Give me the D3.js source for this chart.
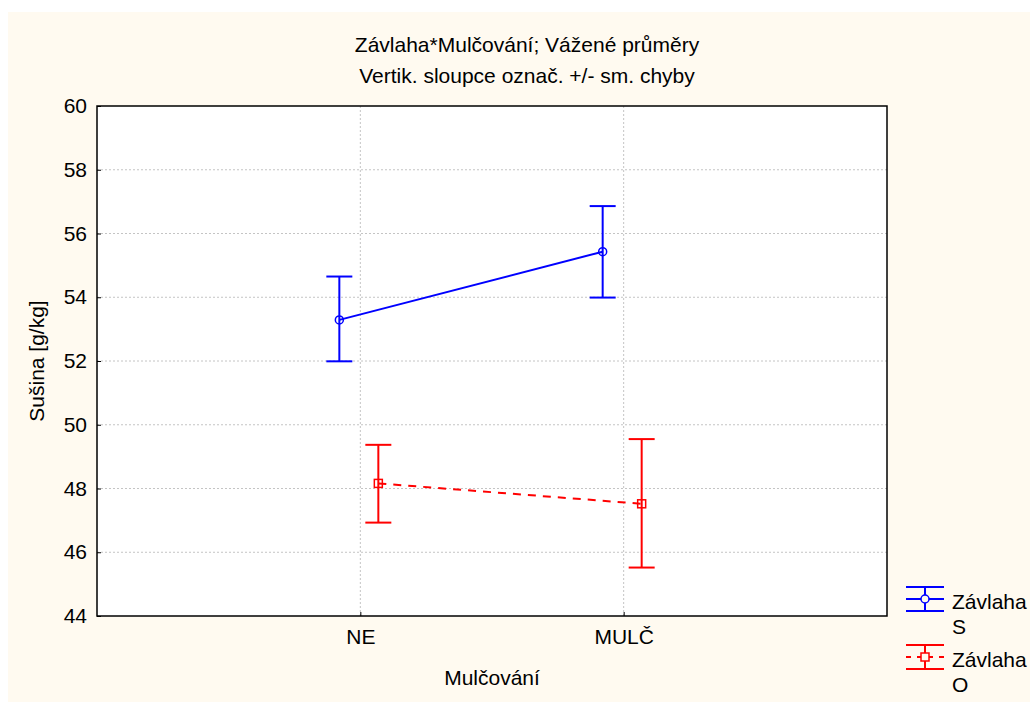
<!DOCTYPE html>
<html>
<head>
<meta charset="utf-8">
<script src="https://cdn.jsdelivr.net/npm/d3@7"></script>
<style>
    body { margin: 0; background: #ffffff; }
    text { font-family: "Liberation Sans", Arial, sans-serif; fill: #000; }
</style>
</head>
<body>
<script>
//categories on the x axis
var categories = ["NE", "MULČ"];

//series names and weighted means with +/- std. error ends
var seriesNames = ["Závlaha S", "Závlaha O"];
var meansS = [53.29, 55.43];
var upperS = [54.65, 56.86];
var lowerS = [51.99, 53.99];
var meansO = [48.16, 47.52];
var upperO = [49.37, 49.55];
var lowerO = [46.93, 45.52];

var yTicks = [44, 46, 48, 50, 52, 54, 56, 58, 60];

window.onload = function(){
    var width = 1030,
        height = 702;

    var svg = d3.select("body")
        .append("svg")
        .attr("width", width)
        .attr("height", height);

    //cream panel
    svg.append("rect")
        .attr("x", 8)
        .attr("y", 12)
        .attr("width", width - 8)
        .attr("height", height - 12)
        .attr("fill", "#fffaf0");

    var left = 97, right = 887, top = 106, bottom = 616;

    var x = d3.scalePoint()
        .domain(categories)
        .range([left, right])
        .padding(1);

    var y = d3.scaleLinear()
        .domain([44, 60])
        .range([bottom, top]);

    //plot area
    svg.append("rect")
        .attr("x", left)
        .attr("y", top)
        .attr("width", right - left)
        .attr("height", bottom - top)
        .attr("fill", "#ffffff");

    //grid lines
    svg.selectAll(".hgrid")
        .data(yTicks.slice(1, -1))
        .enter()
        .append("line")
        .attr("x1", left)
        .attr("x2", right)
        .attr("y1", function(d){ return y(d); })
        .attr("y2", function(d){ return y(d); })
        .attr("stroke", "#c4c4c4")
        .attr("stroke-dasharray", "2,2");

    svg.selectAll(".vgrid")
        .data(categories)
        .enter()
        .append("line")
        .attr("x1", function(d){ return x(d); })
        .attr("x2", function(d){ return x(d); })
        .attr("y1", top)
        .attr("y2", bottom)
        .attr("stroke", "#c4c4c4")
        .attr("stroke-dasharray", "2,2");

    //axes
    var yAxis = svg.append("g")
        .attr("transform", "translate(" + left + ",0)")
        .call(d3.axisLeft(y).tickValues(yTicks).tickSize(-4).tickPadding(10));
    var xAxis = svg.append("g")
        .attr("transform", "translate(0," + bottom + ")")
        .call(d3.axisBottom(x).tickSize(-4).tickPadding(13));
    [yAxis, xAxis].forEach(function(ax){
        ax.select(".domain").remove();
        ax.selectAll("line").attr("stroke", "#000");
        ax.selectAll("text")
            .style("font-family", "'Liberation Sans', Arial, sans-serif")
            .style("font-size", "21px")
            .attr("fill", "#000");
    });

    //frame
    svg.append("rect")
        .attr("x", left)
        .attr("y", top)
        .attr("width", right - left)
        .attr("height", bottom - top)
        .attr("fill", "none")
        .attr("stroke", "#000")
        .attr("stroke-width", 1.5);

    var series = [
        {name: seriesNames[0], means: meansS, upper: upperS, lower: lowerS, color: "#0000ff", dash: null, off: -21, marker: "circle"},
        {name: seriesNames[1], means: meansO, upper: upperO, lower: lowerO, color: "#ff0000", dash: "8,7", off: 18, marker: "square"}
    ];

    series.forEach(function(s){
        var pts = categories.map(function(c, i){
            return {x: x(c) + s.off, m: s.means[i], hi: s.upper[i], lo: s.lower[i]};
        });

        var g = svg.append("g");

        //connecting line
        g.append("path")
            .datum(pts)
            .attr("d", d3.line().x(function(d){ return d.x; }).y(function(d){ return y(d.m); }))
            .attr("fill", "none")
            .attr("stroke", s.color)
            .attr("stroke-width", 2)
            .attr("stroke-dasharray", s.dash);

        //error bars
        g.selectAll(".whisker")
            .data(pts)
            .enter()
            .append("line")
            .attr("x1", function(d){ return d.x; })
            .attr("x2", function(d){ return d.x; })
            .attr("y1", function(d){ return y(d.hi); })
            .attr("y2", function(d){ return y(d.lo); })
            .attr("stroke", s.color)
            .attr("stroke-width", 2);
        ["hi", "lo"].forEach(function(k){
            g.selectAll(".cap" + k)
                .data(pts)
                .enter()
                .append("line")
                .attr("x1", function(d){ return d.x - 13; })
                .attr("x2", function(d){ return d.x + 13; })
                .attr("y1", function(d){ return y(d[k]); })
                .attr("y2", function(d){ return y(d[k]); })
                .attr("stroke", s.color)
                .attr("stroke-width", 2);
        });

        //markers
        if (s.marker == "circle"){
            g.selectAll(".mk")
                .data(pts)
                .enter()
                .append("circle")
                .attr("cx", function(d){ return d.x; })
                .attr("cy", function(d){ return y(d.m); })
                .attr("r", 4)
                .attr("fill", "none")
                .attr("stroke", s.color)
                .attr("stroke-width", 1.5);
        } else {
            g.selectAll(".mk")
                .data(pts)
                .enter()
                .append("rect")
                .attr("x", function(d){ return d.x - 4; })
                .attr("y", function(d){ return y(d.m) - 4; })
                .attr("width", 8)
                .attr("height", 8)
                .attr("fill", "none")
                .attr("stroke", s.color)
                .attr("stroke-width", 1.5);
        }
    });

    //titles
    svg.append("text")
        .attr("x", 527)
        .attr("y", 52)
        .attr("text-anchor", "middle")
        .style("font-size", "21px")
        .text("Závlaha*Mulčování; Vážené průměry");
    svg.append("text")
        .attr("x", 527)
        .attr("y", 83)
        .attr("text-anchor", "middle")
        .style("font-size", "21px")
        .text("Vertik. sloupce označ. +/- sm. chyby");

    //axis titles
    svg.append("text")
        .attr("x", 492)
        .attr("y", 685)
        .attr("text-anchor", "middle")
        .style("font-size", "21px")
        .text("Mulčování");
    svg.append("text")
        .attr("transform", "translate(44," + ((top + bottom) / 2) + ") rotate(-90)")
        .attr("text-anchor", "middle")
        .style("font-size", "21px")
        .text("Sušina [g/kg]");

    //legend
    var legend = svg.selectAll(".legend")
        .data(series)
        .enter()
        .append("g")
        .attr("transform", function(d, i){ return "translate(0," + (i * 58) + ")"; });

    legend.each(function(s){
        var lg = d3.select(this);
        [587, 611].forEach(function(yy){
            lg.append("line")
                .attr("x1", 906).attr("x2", 944)
                .attr("y1", yy).attr("y2", yy)
                .attr("stroke", s.color).attr("stroke-width", 2);
        });
        lg.append("line")
            .attr("x1", 925).attr("x2", 925)
            .attr("y1", 587).attr("y2", 611)
            .attr("stroke", s.color).attr("stroke-width", 2);
        lg.append("line")
            .attr("x1", 906).attr("x2", 944)
            .attr("y1", 599).attr("y2", 599)
            .attr("stroke", s.color).attr("stroke-width", 2)
            .attr("stroke-dasharray", s.dash ? "5,6" : null);
        if (s.marker == "circle"){
            lg.append("circle")
                .attr("cx", 925).attr("cy", 599).attr("r", 4)
                .attr("fill", "#fffaf0").attr("stroke", s.color).attr("stroke-width", 1.5);
        } else {
            lg.append("rect")
                .attr("x", 921).attr("y", 595).attr("width", 8).attr("height", 8)
                .attr("fill", "#fffaf0").attr("stroke", s.color).attr("stroke-width", 1.5);
        }
        var words = s.name.split(" ");
        lg.append("text")
            .attr("x", 952).attr("y", 609)
            .style("font-size", "21px")
            .text(words[0]);
        lg.append("text")
            .attr("x", 952).attr("y", 634)
            .style("font-size", "21px")
            .text(words[1]);
    });
};
</script>
</body>
</html>
